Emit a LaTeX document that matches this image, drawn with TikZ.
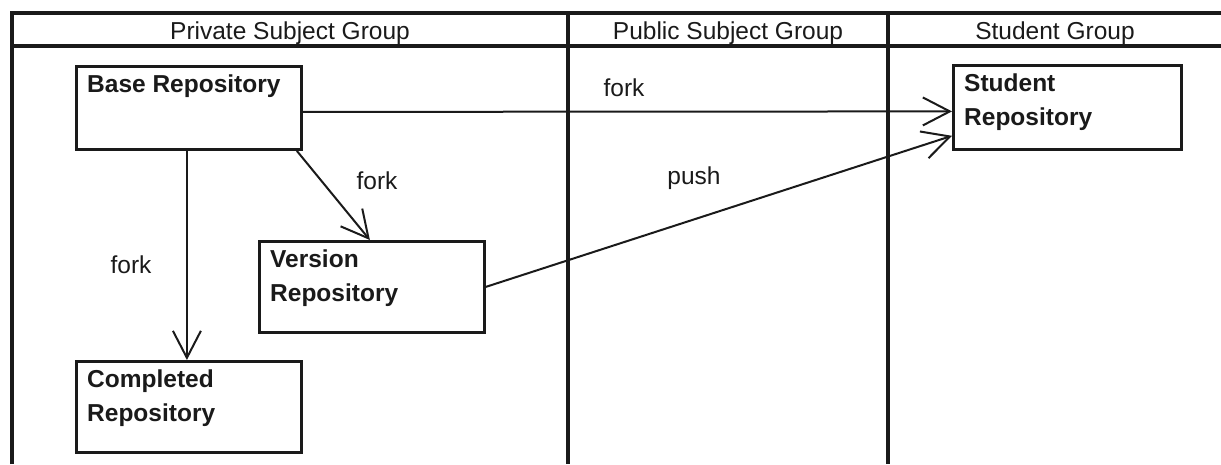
\documentclass[tikz,border=0pt]{standalone}
\usepackage{fontspec}
\setmainfont{Liberation Sans}
\usetikzlibrary{arrows.meta}
\definecolor{ink}{HTML}{1A1A1A}
\begin{document}
\begin{tikzpicture}[x=1pt,y=-1pt,
  frame/.style={draw=ink, line width=4pt},
  repo/.style={draw=ink, line width=2.8pt, anchor=north west, inner sep=0pt},
  repotext/.style={anchor=north west, align=left, text=ink,
    font=\fontsize{24.5}{34}\selectfont\bfseries, inner sep=0pt, xshift=12pt, yshift=-10pt},
  conn/.style={draw=ink, line width=2pt, -{Straight Barb[length=27pt,width=28pt]}},
  lbl/.style={font=\fontsize{24.5}{28}\selectfont, text=ink, inner sep=0pt},
  hdr/.style={font=\fontsize{24.5}{28}\selectfont, text=ink, anchor=base, inner sep=0pt}
]
\useasboundingbox (0,0) rectangle (1221,464);

% swimlane frame
\draw[frame] (12,464) -- (12,13) -- (1221,13);
\draw[frame] (12,46) -- (1221,46);
\draw[frame] (568,13) -- (568,464);
\draw[frame] (888,13) -- (888,464);

% headers
\node[hdr] (h1) at (290,39.5) {Private Subject Group};
\node[hdr] (h2) at (728,39.5) {Public Subject Group};
\node[hdr] (h3) at (1055,39.5) {Student Group};

% repositories
\node[repo, minimum width=225pt, minimum height=83pt,
  label={[repotext]north west:Base Repository}] (base) at (75,65) {};
\node[repo, minimum width=225pt, minimum height=91pt,
  label={[repotext]north west:{Version\\Repository}}] (version) at (258,240) {};
\node[repo, minimum width=225pt, minimum height=91pt,
  label={[repotext]north west:{Completed\\Repository}}] (completed) at (75,360) {};
\node[repo, minimum width=228pt, minimum height=84pt,
  label={[repotext]north west:{Student\\Repository}}] (student) at (952,64) {};

% connectors
\draw[conn] ([yshift=-4pt]base.east) -- ([yshift=-4pt]student.west);
\draw[conn] ([xshift=-6pt]base.south east) -- ([xshift=-2pt]version.north);
\draw[conn] ([xshift=-2pt]base.south) -- ([xshift=-2pt]completed.north);
\draw[conn] (version.east) -- ([yshift=15pt]student.south west);

% labels
\node[lbl] (l1) at (624,88) {fork};
\node[lbl] (l2) at (377,181) {fork};
\node[lbl] (l3) at (131,265) {fork};
\node[lbl] (l4) at (694,178) {push};
\end{tikzpicture}
\end{document}
